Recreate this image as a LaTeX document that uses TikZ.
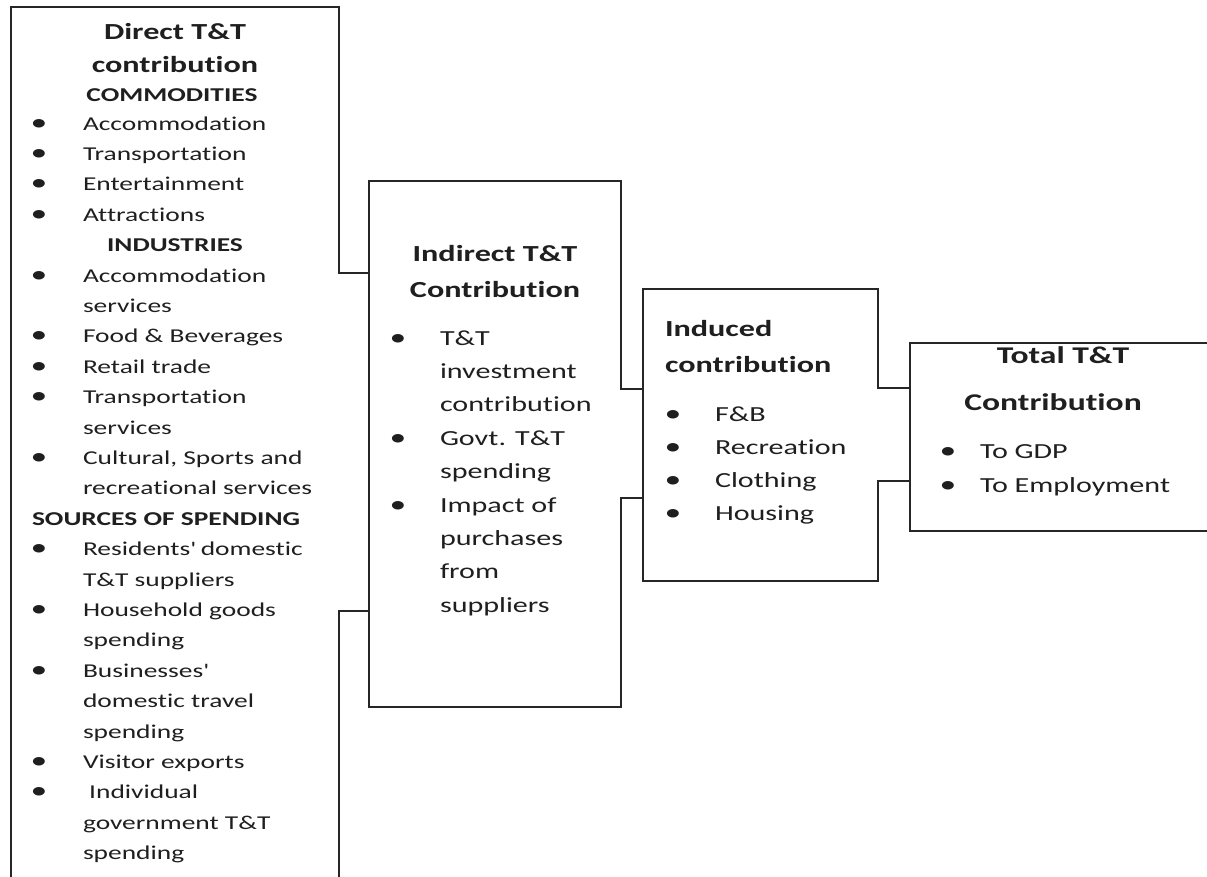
\documentclass[tikz,border=0pt]{standalone}
\usepackage{fontspec}
\setmainfont{Carlito}[FakeStretch=1.4, Ligatures={NoCommon}]
\begin{document}
\begin{tikzpicture}[x=1pt,y=-1pt,
  edge/.style={draw=black!85, line width=1.4pt, line join=miter},
  boxarea/.style={inner sep=0, outer sep=0, anchor=north west},
  tl/.style={anchor=base west, inner sep=0, outer sep=0, text=black!88},
  tc/.style={anchor=base, inner sep=0, outer sep=0, text=black!88},
  fd/.style={font=\fontsize{19.6}{23}\selectfont},
  fdb/.style={font=\fontsize{19.6}{23}\selectfont\bfseries},
  fb/.style={font=\fontsize{21.5}{25}\selectfont},
  fbul/.style={font=\fontsize{24}{28}\selectfont},
  ft/.style={font=\fontsize{23}{27}\selectfont\bfseries},
  ftt/.style={font=\fontsize{24}{28}\selectfont\bfseries}
]
\useasboundingbox (0,0) rectangle (1207,876);
% box areas
\node[boxarea, minimum width=328pt, minimum height=880pt] (direct) at (11,7) {};
\node[boxarea, minimum width=252pt, minimum height=526pt] (indirect) at (369,181) {};
\node[boxarea, minimum width=235pt, minimum height=292pt] (induced) at (643,289) {};
\node[boxarea, minimum width=320pt, minimum height=188pt] (total) at (910,343) {};
% connector levels
\coordinate (k1) at (0,273);
\coordinate (k2) at (0,611);
\coordinate (k3) at (0,389);
\coordinate (k4) at (0,498);
\coordinate (k5) at (0,388);
\coordinate (k6) at (0,481);
% outlines and connectors
\draw[edge] (direct.south west) -- (direct.north west) -- (direct.north east)
  -- (direct.east |- k1) -- (indirect.west |- k1);
\draw[edge] (indirect.west |- k2) -- (direct.east |- k2) -- (direct.south east);
\draw[edge] (induced.west |- k3) -- (indirect.east |- k3) -- (indirect.north east)
  -- (indirect.north west) -- (indirect.south west) -- (indirect.south east)
  -- (indirect.east |- k4) -- (induced.west |- k4);
\draw[edge] (total.west |- k5) -- (induced.east |- k5) -- (induced.north east)
  -- (induced.north west) -- (induced.south west) -- (induced.south east)
  -- (induced.east |- k6) -- (total.west |- k6);
\draw[edge] (total.north east) -- (total.north west) -- (total.south west) -- (total.south east);

% ---- Direct box text
\node[tc, ft] (dt1) at (175,39.5) {Direct T\&T};
\node[tc, ft] (dt2) at (175,72) {contribution};
\node[tc, fdb] (dh1) at (172,101) {COMMODITIES};
\node[tl, fd] (d0) at (83,130) {Accommodation};
\node[tl, fd] (d1) at (83,160.4) {Transportation};
\node[tl, fd] (d2) at (83,190.8) {Entertainment};
\node[tl, fd] (d3) at (83,221.2) {Attractions};
\node[tc, fdb] (dh2) at (175,251.6) {INDUSTRIES};
\node[tl, fd] (d5) at (83,282) {Accommodation};
\node[tl, fd] (d6) at (83,312.4) {services};
\node[tl, fd] (d7) at (83,342.8) {Food \& Beverages};
\node[tl, fd] (d8) at (83,373.2) {Retail trade};
\node[tl, fd] (d9) at (83,403.6) {Transportation};
\node[tl, fd] (d10) at (83,434) {services};
\node[tl, fd] (d11) at (83,464.4) {Cultural, Sports and};
\node[tl, fd] (d12) at (83,494.8) {recreational services};
\node[tl, fdb] (dh3) at (32,525.2) {SOURCES OF SPENDING};
\node[tl, fd] (d14) at (83,555.6) {Residents\textquotesingle{} domestic};
\node[tl, fd] (d15) at (83,586) {T\&T suppliers};
\node[tl, fd] (d16) at (83,616.4) {Household goods};
\node[tl, fd] (d17) at (83,646.8) {spending};
\node[tl, fd] (d18) at (83,677.2) {Businesses\textquotesingle};
\node[tl, fd] (d19) at (83,707.6) {domestic travel};
\node[tl, fd] (d20) at (83,738) {spending};
\node[tl, fd] (d21) at (83,768.4) {Visitor exports};
\node[tl, fd] (d22) at (83,798.8) {\ Individual};
\node[tl, fd] (d23) at (83,829.2) {government T\&T};
\node[tl, fd] (d24) at (83,859.6) {spending};
\foreach \yy [count=\i] in {130,160.4,190.8,221.2,282,342.8,373.2,403.6,464.4,555.6,616.4,677.2,768.4,798.8}
  \node[tc, fbul] (db\i) at (39,\yy) {•};

% ---- Indirect box text
\node[tc, ft] (it1) at (495,261) {Indirect T\&T};
\node[tc, ft] (it2) at (495,297) {Contribution};
\node[tl, fb] (i0) at (440,345) {T\&T};
\node[tl, fb] (i1) at (440,378.4) {investment};
\node[tl, fb] (i2) at (440,411.8) {contribution};
\node[tl, fb] (i3) at (440,445.2) {Govt. T\&T};
\node[tl, fb] (i4) at (440,478.6) {spending};
\node[tl, fb] (i5) at (440,512) {Impact of};
\node[tl, fb] (i6) at (440,545.4) {purchases};
\node[tl, fb] (i7) at (440,578.8) {from};
\node[tl, fb] (i8) at (440,612.2) {suppliers};
\foreach \yy [count=\i] in {345,445.2,512}
  \node[tc, fbul] (ib\i) at (398,\yy) {•};

% ---- Induced box text
\node[tl, ft] (nt1) at (665,336) {Induced};
\node[tl, ft] (nt2) at (665,372) {contribution};
\node[tl, fb] (n0) at (715,421) {F\&B};
\node[tl, fb] (n1) at (715,454) {Recreation};
\node[tl, fb] (n2) at (715,487) {Clothing};
\node[tl, fb] (n3) at (715,520) {Housing};
\foreach \yy [count=\i] in {421,454,487,520}
  \node[tc, fbul] (nb\i) at (673,\yy) {•};

% ---- Total box text
\node[tc, ftt] (tt1) at (1063,363) {Total T\&T};
\node[tc, ftt] (tt2) at (1053,410) {Contribution};
\node[tl, fb] (t0) at (980,458) {To GDP};
\node[tl, fb] (t1) at (980,492) {To Employment};
\foreach \yy [count=\i] in {458,492}
  \node[tc, fbul] (tb\i) at (948,\yy) {•};
\end{tikzpicture}
\end{document}
